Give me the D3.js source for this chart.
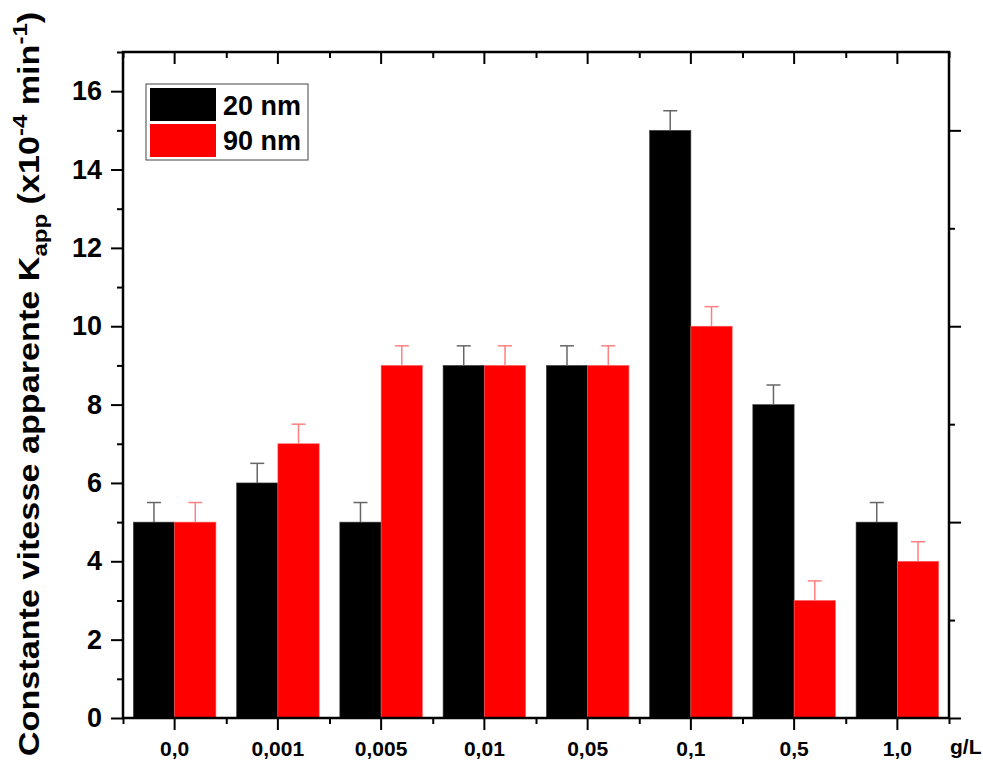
<!DOCTYPE html>
<html>
<head>
<meta charset="utf-8">
<script src="https://cdn.jsdelivr.net/npm/d3@7"></script>
<style>
  html, body { margin: 0; padding: 0; background: #fff; }
  svg { display: block; font-family: "Liberation Sans", Arial, sans-serif; }
</style>
</head>
<body>
<svg id="chart" width="983" height="762"></svg>
<script>
const categories = ["0,0", "0,001", "0,005", "0,01", "0,05", "0,1", "0,5", "1,0"];
const seriesNames = ["20 nm", "90 nm"];
const values20 = [5, 6, 5, 9, 9, 15, 8, 5];
const values90 = [5, 7, 9, 9, 9, 10, 3, 4];
const errors20 = [0.5, 0.5, 0.5, 0.5, 0.5, 0.5, 0.5, 0.5];
const errors90 = [0.5, 0.5, 0.5, 0.5, 0.5, 0.5, 0.5, 0.5];
const yTicks = [0, 2, 4, 6, 8, 10, 12, 14, 16];
const yMinorTicks = [1, 3, 5, 7, 9, 11, 13, 15, 17];
const rightMajor = [0, 5, 10, 15];
const rightMinor = [2.5, 7.5, 12.5];

const colors = ["#000000", "#ff0000"];
const errColors = ["#666666", "#ff8080"];

const svg = d3.select("#chart");
const L = 123, R = 949, T = 52, B = 718;

const x = d3.scaleBand().domain(categories).range([L, R]).padding(0);
const xs = d3.scaleBand().domain(seriesNames).range([-x.bandwidth() * 0.4, x.bandwidth() * 0.4]).padding(0);
const y = d3.scaleLinear().domain([0, 17]).range([B, T]);

const data = [];
categories.forEach((c, i) => {
  data.push({ cat: c, s: seriesNames[0], v: values20[i], e: errors20[i], k: 0 });
  data.push({ cat: c, s: seriesNames[1], v: values90[i], e: errors90[i], k: 1 });
});

// bars
svg.append("g").selectAll("rect").data(data).join("rect")
  .attr("x", d => x(d.cat) + x.bandwidth() / 2 + xs(d.s))
  .attr("y", d => y(d.v))
  .attr("width", xs.bandwidth())
  .attr("height", d => y(0) - y(d.v))
  .attr("fill", d => colors[d.k])
  .attr("stroke", d => d.k === 0 ? "#444" : "#ff6060")
  .attr("stroke-width", 0.6);

// error bars (upper only)
const eg = svg.append("g");
data.forEach(d => {
  const cx = x(d.cat) + x.bandwidth() / 2 + xs(d.s) + xs.bandwidth() / 2;
  eg.append("line").attr("x1", cx).attr("x2", cx).attr("y1", y(d.v)).attr("y2", y(d.v + d.e))
    .attr("stroke", errColors[d.k]).attr("stroke-width", 1.5);
  eg.append("line").attr("x1", cx - 7).attr("x2", cx + 7).attr("y1", y(d.v + d.e)).attr("y2", y(d.v + d.e))
    .attr("stroke", errColors[d.k]).attr("stroke-width", 1.5);
});

const boundaries = categories.map(c => x(c)).concat([R]);
const xc = d3.scaleLinear().domain([L, R]).range([L, R]);

function styleAxis(g) {
  g.selectAll("path.domain").remove();
  g.selectAll(".tick line").attr("stroke", "#000").attr("stroke-width", 2);
}

// left axis
const gl = svg.append("g").attr("transform", `translate(${L},0)`)
  .call(d3.axisLeft(y).tickValues(yTicks).tickSize(12).tickPadding(9).tickFormat(d3.format("d")));
styleAxis(gl);
gl.selectAll(".tick text").attr("font-size", 27).attr("font-weight", "bold").attr("fill", "#000");
const glm = svg.append("g").attr("transform", `translate(${L},0)`)
  .call(d3.axisLeft(y).tickValues(yMinorTicks).tickSize(6).tickFormat(""));
styleAxis(glm);

// right axis
const gr = svg.append("g").attr("transform", `translate(${R},0)`)
  .call(d3.axisRight(y).tickValues(rightMajor).tickSize(12).tickFormat(""));
styleAxis(gr);
const grm = svg.append("g").attr("transform", `translate(${R},0)`)
  .call(d3.axisRight(y).tickValues(rightMinor).tickSize(6).tickFormat(""));
styleAxis(grm);

// bottom axis
const gb = svg.append("g").attr("transform", `translate(0,${B})`)
  .call(d3.axisBottom(x).tickSize(12).tickPadding(11));
styleAxis(gb);
gb.selectAll(".tick text").attr("font-size", 21).attr("font-weight", "bold").attr("fill", "#000");
const gbm = svg.append("g").attr("transform", `translate(0,${B})`)
  .call(d3.axisBottom(xc).tickValues(boundaries).tickSize(6).tickFormat(""));
styleAxis(gbm);

// top axis (inward ticks)
const gt = svg.append("g").attr("transform", `translate(0,${T})`)
  .call(d3.axisBottom(x).tickSize(12).tickFormat(""));
styleAxis(gt);
const gtm = svg.append("g").attr("transform", `translate(0,${T})`)
  .call(d3.axisBottom(xc).tickValues(boundaries).tickSize(6).tickFormat(""));
styleAxis(gtm);

// frame
svg.append("rect").attr("x", L).attr("y", T).attr("width", R - L).attr("height", B - T)
  .attr("fill", "none").attr("stroke", "#000").attr("stroke-width", 2.5);

// x unit label
svg.append("text").attr("x", 950).attr("y", 754).attr("font-size", 21).attr("font-weight", "bold")
  .text("g/L");

// y label
const yl = svg.append("text")
  .attr("transform", `translate(39,384) rotate(-90) scale(1.14,1)`)
  .attr("text-anchor", "middle").attr("font-size", 30).attr("font-weight", "bold");
yl.append("tspan").text("Constante vitesse apparente K");
yl.append("tspan").attr("font-size", 21).attr("dy", 8).text("app");
yl.append("tspan").attr("dy", -8).text("  (x10");
yl.append("tspan").attr("font-size", 21).attr("dy", -12).text("-4");
yl.append("tspan").attr("dy", 12).text(" min");
yl.append("tspan").attr("font-size", 21).attr("dy", -12).text("-1");
yl.append("tspan").attr("dy", 12).text(")");

// legend
const lg = svg.append("g");
lg.append("rect").attr("x", 146).attr("y", 84).attr("width", 162).attr("height", 76)
  .attr("fill", "#fff").attr("stroke", "#444").attr("stroke-width", 1);
seriesNames.forEach((s, i) => {
  lg.append("rect").attr("x", 150).attr("y", 88 + i * 36).attr("width", 66).attr("height", 33)
    .attr("fill", colors[i]);
  lg.append("text").attr("x", 223).attr("y", 115 + i * 35).attr("font-size", 27)
    .attr("font-weight", "bold").text(s);
});
</script>
</body>
</html>
